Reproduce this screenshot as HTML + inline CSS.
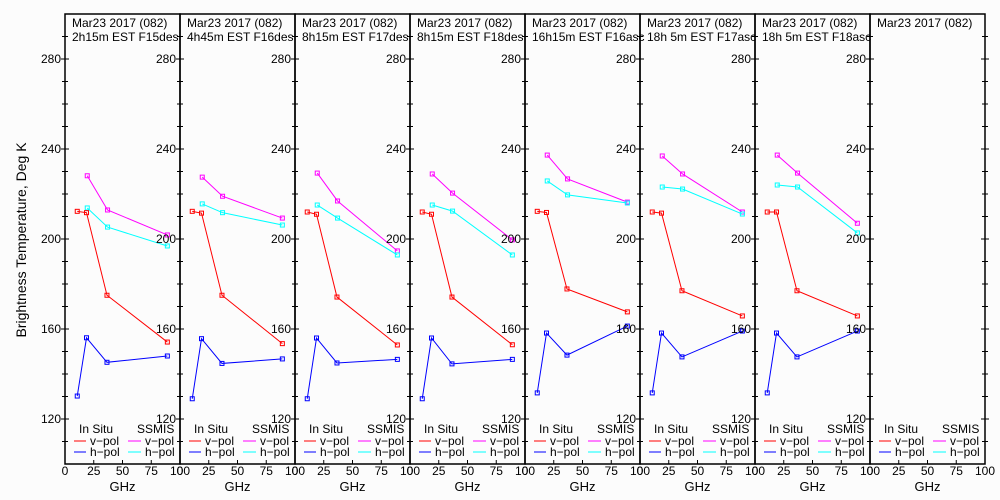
<!DOCTYPE html>
<html><head><meta charset="utf-8"><style>
body{margin:0;background:#fcfcfc;}
svg{display:block;font-family:"Liberation Sans",sans-serif;font-size:12px;}
</style></head><body>
<svg id="chart" width="1000" height="500"></svg>
<script>
const titles1 = ["Mar23 2017 (082)","Mar23 2017 (082)","Mar23 2017 (082)","Mar23 2017 (082)","Mar23 2017 (082)","Mar23 2017 (082)","Mar23 2017 (082)","Mar23 2017 (082)"];
const titles2 = ["2h15m EST F15des","4h45m EST F16des","8h15m EST F17des","8h15m EST F18des","16h15m EST F16asc","18h 5m EST F17asc","18h 5m EST F18asc",""];
const insituFreq = [10.65, 18.7, 36.5, 89];
const ssmisFreq = [19.35, 37, 89];
const insituV = [[212.3,211.7,175,154.2],[212.3,211.5,175,153.5],[212,211,174.2,152.9],[212,211,174.2,153],[212.3,211.8,177.8,167.6],[212,211.5,177,165.8],[212,212,177,165.8],null];
const insituH = [[130.2,156.1,145.2,148],[129,155.7,144.7,146.7],[129,156,144.9,146.5],[129,156,144.5,146.5],[131.6,158.2,148.4,161.3],[131.6,158.2,147.6,159.1],[131.6,158.2,147.6,159.1],null];
const ssmisV = [[228.1,212.9,201.8],[227.5,219,209.3],[229.3,216.9,194.7],[228.9,220.4,199.6],[237.3,226.7,216.4],[236.9,228.9,212],[237.3,229.3,207],null];
const ssmisH = [[213.8,205.3,196.9],[215.6,211.7,206.2],[215.1,209.3,192.9],[215.1,212.4,192.9],[225.8,219.6,216],[223.1,222.2,211.1],[224,223.1,202.7],null];
const yTicks = [120,160,200,240,280];
const xTicks = [0,25,50,75,100];

const NS="http://www.w3.org/2000/svg";
const svg=document.getElementById('chart');
const P0=65, PW=115, TOP=14, BOT=464;
function yPos(v){return 59+(280-v)*2.25;}
function xPos(p,f){return P0+p*PW+f*PW/100;}
function el(tag,attrs,parent){const e=document.createElementNS(NS,tag);for(const k in attrs)e.setAttribute(k,attrs[k]);(parent||svg).appendChild(e);return e;}
function txt(x,y,s,anchor,parent){const t=el('text',{x:x,y:y,'text-anchor':anchor||'start',fill:'#000'},parent);t.textContent=s;return t;}

const yt=txt(0,0,"Brightness Temperature, Deg K","middle");
yt.setAttribute('transform','translate(26,240) rotate(-90)');
yt.setAttribute('font-size','14');



const colors={iv:'#f00',ih:'#00f',sv:'#f0f',sh:'#0ff'};
function series(g,p,freqs,vals,col,name){
  const pts=freqs.map((f,i)=>xPos(p,f)+','+yPos(vals[i])).join(' ');
  const l=el('polyline',{points:pts,fill:'none',stroke:col,'stroke-width':1},g);
  
  
  freqs.forEach((f,i)=>{
    const r=el('rect',{x:xPos(p,f)-2,y:yPos(vals[i])-2,width:4,height:4,fill:'none',stroke:col,'stroke-width':1},g);
    
    
  });
}

for(let p=0;p<8;p++){
  const g=el('g',{});
  
  
  const x0=P0+p*PW;
  const fr=el('rect',{x:x0,y:TOP,width:PW,height:BOT-TOP,fill:'none',stroke:'#000','stroke-width':1.5},g);
  
  
  const t1=txt(x0+7,27,titles1[p],'start',g);
  
  
  const t2=txt(x0+7,41,titles2[p],'start',g);
  
  
  for(let v=110;v<=290;v+=10){
    const major=yTicks.includes(v);
    const len=major?4:3;
    [x0,x0+PW].forEach(xb=>{el('line',{x1:xb-len,x2:xb+len,y1:yPos(v),y2:yPos(v),stroke:'#000'},g);});
  }
  yTicks.forEach(v=>{
    const lb=txt(x0-4,yPos(v)+4,String(v),'end',g);
    
    
  });
  xTicks.forEach(f=>{
    el('line',{x1:xPos(p,f),x2:xPos(p,f),y1:BOT,y2:BOT-4,stroke:'#000'},g);
    const lb=txt(xPos(p,f),475,String(f),'middle',g);
    
    
  });
  const xt=txt(x0+PW/2,491,"GHz",'middle',g);
  xt.setAttribute('font-size','13');
  
  
  const lg=el('g',{},g);
  
  
  txt(x0+14,433,"In Situ",'start',lg);
  txt(x0+72,433,"SSMIS",'start',lg);
  el('line',{x1:x0+9,x2:x0+21,y1:441,y2:441,stroke:colors.iv},lg);
  txt(x0+25,445,"v\u2212pol",'start',lg);
  el('line',{x1:x0+9,x2:x0+21,y1:452,y2:452,stroke:colors.ih},lg);
  txt(x0+25,456,"h\u2212pol",'start',lg);
  el('line',{x1:x0+63,x2:x0+76,y1:441,y2:441,stroke:colors.sv},lg);
  txt(x0+80,445,"v\u2212pol",'start',lg);
  el('line',{x1:x0+63,x2:x0+76,y1:452,y2:452,stroke:colors.sh},lg);
  txt(x0+80,456,"h\u2212pol",'start',lg);
  if(insituV[p]){
    series(g,p,ssmisFreq,ssmisV[p],colors.sv,'ssmis-v-pol');
    series(g,p,ssmisFreq,ssmisH[p],colors.sh,'ssmis-h-pol');
    series(g,p,insituFreq,insituV[p],colors.iv,'insitu-v-pol');
    series(g,p,insituFreq,insituH[p],colors.ih,'insitu-h-pol');
  }
}
</script>
</body></html>
